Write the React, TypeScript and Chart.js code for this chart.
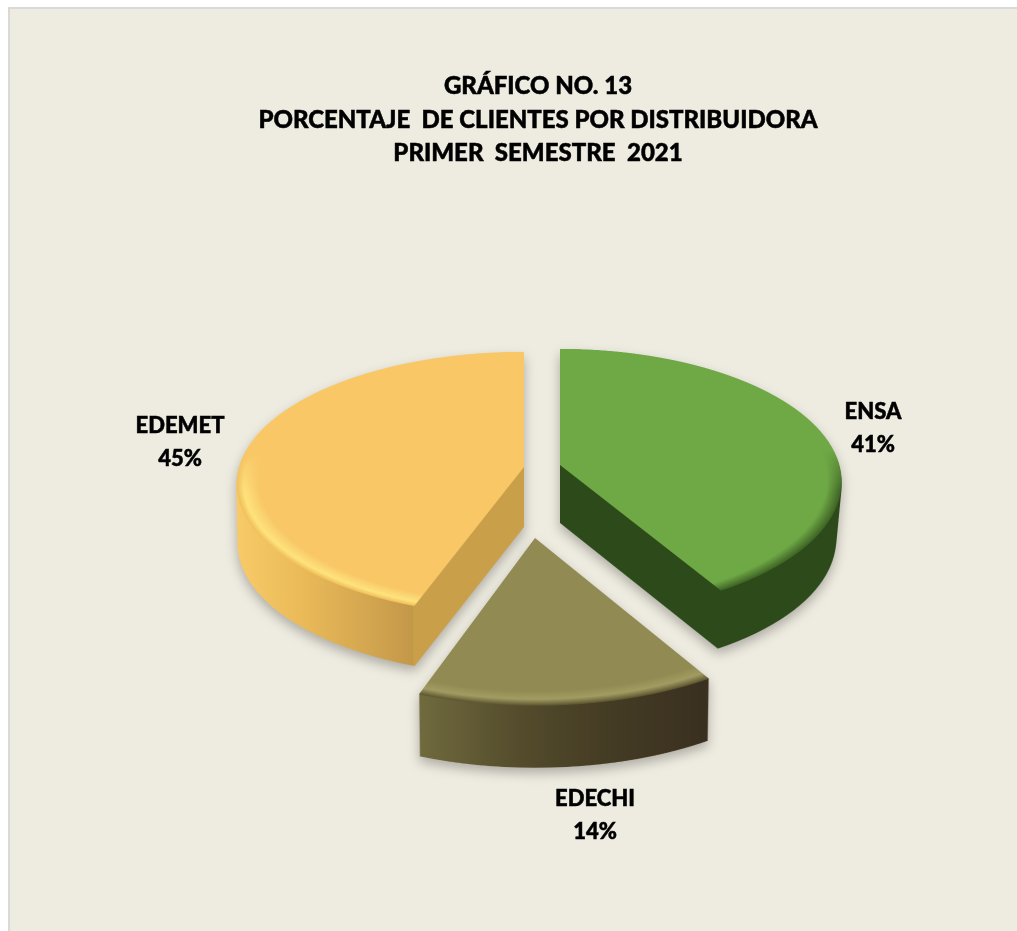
import React, { useEffect, useRef } from "react";
import { Chart, registerables } from "chart.js";

Chart.register(...registerables);

const categories = ["ENSA", "EDECHI", "EDEMET"];
const shares = [41.4, 14.1, 44.5];
const shareLabels = ["41%", "14%", "45%"];
const titleLines = [
  "GRÁFICO NO. 13",
  "PORCENTAJE  DE CLIENTES POR DISTRIBUIDORA",
  "PRIMER  SEMESTRE  2021",
];
const topColors = ["#6FA946", "#918A52", "#F9C766"];

const FONT = "Lato";
const W = 1017;
const H = 931;
const SS = 2;
const PL = 800;
const PS = 2;
const TITLE_LINE = 33.5;
const TITLE_TOP = 69.75;

// per-slice drawing geometry: page shift of the apex from the pie centre, tilt, perspective, size, wall height
const sliceShift = [[22, -3], [-3, 70], [-14, -1]];
const sliceTilt = [0.468, 0.485, 0.456];
const slicePersp = [0.00045, 0.00045, 0.00045];
const sliceSize = [0.98, 1.05, 1];
const sliceDepth = [58, 62, 60];
const wallShrink = [0.02, 0.006, 0.004];
const sideStops: [number, string][][] = [
  [[560, "#2D4A1B"], [850, "#2D4A1B"]],
  [[420, "#706A3E"], [520, "#544C2C"], [600, "#463D25"], [705, "#3A3020"]],
  [[237, "#F8CA68"], [300, "#EBBB59"], [413, "#C4984A"], [414, "#C9A049"], [524, "#C9A049"]],
];
const rimStops: [number, string][][] = [
  [[0.95, "rgba(60,95,35,0)"], [1, "rgba(60,95,35,0.95)"]],
  [[0.92, "rgba(165,158,100,0)"], [0.965, "rgba(165,158,100,0.9)"], [1, "rgba(90,84,48,1)"]],
  [[0.92, "rgba(255,228,125,0)"], [0.975, "rgba(255,228,125,1)"], [1, "rgba(240,190,90,1)"]],
];
const labelAnchors = [[873, 412], [595, 799], [180, 426]];

function makeCanvas(w: number, h: number) {
  const c = document.createElement("canvas");
  c.width = w;
  c.height = h;
  return c;
}

function drawSlice(ctx: CanvasRenderingContext2D, el: any, i: number) {
  const planeSize = PL * PS;
  const plane = makeCanvas(planeSize, planeSize);
  const p = plane.getContext("2d")!;
  const sc = sliceSize[i];
  p.setTransform(PS * sc, 0, 0, PS * sc, planeSize / 2, planeSize / 2);
  p.translate(-el.x, -el.y);
  el.draw(p);

  // bevel along the front rim
  const R = el.outerRadius * sc;
  const rim = makeCanvas(planeSize, planeSize);
  const r = rim.getContext("2d")!;
  r.setTransform(PS, 0, 0, PS, planeSize / 2, planeSize / 2);
  const rg = r.createRadialGradient(0, 0, 0, 0, 0, R);
  rg.addColorStop(0, rimStops[i][0][1]);
  rimStops[i].forEach(([o, c]) => rg.addColorStop(o, c));
  r.fillStyle = rg;
  r.fillRect(-PL / 2, -PL / 2, PL, PL);
  r.globalCompositeOperation = "destination-in";
  const fade = r.createLinearGradient(0, -0.12 * R, 0, 0.2 * R);
  fade.addColorStop(0, "rgba(0,0,0,0)");
  fade.addColorStop(1, "rgba(0,0,0,1)");
  r.fillStyle = fade;
  r.fillRect(-PL / 2, -PL / 2, PL, PL);
  p.setTransform(1, 0, 0, 1, 0, 0);
  p.globalCompositeOperation = "source-atop";
  p.drawImage(rim, 0, 0);

  // perspective warp, row by row
  const ax = el.x + sliceShift[i][0];
  const ay = el.y + sliceShift[i][1];
  const k = sliceTilt[i];
  const q = slicePersp[i];
  const top = makeCanvas(W * SS, H * SS);
  const t = top.getContext("2d")!;
  t.imageSmoothingEnabled = true;
  for (let row = 0; row < H * SS; row++) {
    const dy = (row + 0.5) / SS - ay;
    const v = dy / (k + q * dy);
    if (Math.abs(v) > PL / 2 - 2) continue;
    const f = 1 - q * v;
    const s = 1 / f;
    const sh = Math.max(1, (f * f) / k * (PS / SS));
    const sy = (v + PL / 2) * PS - sh / 2;
    t.drawImage(plane, 0, sy, planeSize, sh, (ax - (PL / 2) * s) * SS, row, planeSize * (s * SS / PS), 1);
  }

  // wall: the warped face stacked downwards, narrowing slightly, then coloured
  const side = makeCanvas(W * SS, H * SS);
  const sc2 = side.getContext("2d")!;
  const maxD = sliceDepth[i] * SS;
  for (let d = maxD; d > 0; d -= 2) {
    const e = (wallShrink[i] * d) / maxD;
    sc2.drawImage(top, ax * SS * e, d, W * SS * (1 - e), H * SS);
  }
  sc2.globalCompositeOperation = "source-in";
  const stops = sideStops[i];
  const x0 = stops[0][0];
  const x1 = stops[stops.length - 1][0];
  const g = sc2.createLinearGradient(x0 * SS, 0, x1 * SS, 0);
  stops.forEach(([x, c]) => g.addColorStop((x - x0) / (x1 - x0), c));
  sc2.fillStyle = g;
  sc2.fillRect(0, 0, W * SS, H * SS);

  ctx.save();
  ctx.imageSmoothingQuality = "high";
  ctx.shadowColor = "rgba(0,0,0,0.28)";
  ctx.shadowBlur = 12;
  ctx.shadowOffsetY = 5;
  ctx.drawImage(side, 0, 0, W, H);
  ctx.restore();
  ctx.imageSmoothingQuality = "high";
  ctx.drawImage(top, 0, 0, W, H);
}

const pagePlugin = {
  id: "page",
  beforeDraw(chart: any) {
    const c = chart.ctx;
    c.save();
    c.fillStyle = "#FFFFFF";
    c.fillRect(0, 0, W, H);
    c.fillStyle = "#D9D9D9";
    c.fillRect(8, 7, W - 8, H - 7);
    c.fillStyle = "#EEEBE0";
    c.fillRect(10, 9, W - 10, H - 9);
    c.restore();
  },
};

const warpPlugin = {
  id: "warpedPie",
  beforeDatasetsDraw(chart: any) {
    const meta = chart.getDatasetMeta(0);
    meta.data.forEach((el: any, i: number) => drawSlice(chart.ctx, el, i));
    return false;
  },
  afterDraw(chart: any) {
    const c = chart.ctx;
    c.save();
    c.fillStyle = "#000000";
    c.strokeStyle = "#000000";
    c.lineWidth = 0.5;
    c.textAlign = "center";
    c.textBaseline = "middle";
    c.font = `900 24px ${FONT}`;
    // a thin outline thickens the title the library has drawn
    const tb = chart.titleBlock;
    const cx = (tb.left + tb.right) / 2;
    titleLines.forEach((line, i) => {
      c.strokeText(line, cx, tb.top + TITLE_TOP + TITLE_LINE * (i + 0.5));
    });
    c.font = `900 22px ${FONT}`;
    categories.forEach((name, i) => {
      const [x, y] = labelAnchors[i];
      c.fillText(name, x, y);
      c.strokeText(name, x, y);
      c.fillText(shareLabels[i], x, y + 33);
      c.strokeText(shareLabels[i], x, y + 33);
    });
    c.restore();
  },
};

export default function App() {
  const ref = useRef<HTMLCanvasElement>(null);
  useEffect(() => {
    const chart = new Chart(ref.current!, {
      type: "pie",
      data: {
        labels: categories,
        datasets: [{ data: shares, backgroundColor: topColors, borderWidth: 0 }],
      },
      options: {
        responsive: false,
        animation: false,
        rotation: 0,
        layout: { padding: { left: 59, right: 0, top: 0, bottom: 178 } },
        plugins: {
          legend: { display: false },
          tooltip: { enabled: false },
          title: {
            display: true,
            text: titleLines,
            color: "#000000",
            font: { family: FONT, weight: "900", size: 24, lineHeight: TITLE_LINE / 24 },
            padding: { top: TITLE_TOP, bottom: 12.75 },
          },
        },
      },
      plugins: [pagePlugin, warpPlugin],
    } as any);
    return () => chart.destroy();
  }, []);
  return (
    <canvas
      ref={ref}
      width={W}
      height={H}
      style={{ position: "absolute", left: 0, top: 0, display: "block", width: W, height: H }}
    />
  );
}
